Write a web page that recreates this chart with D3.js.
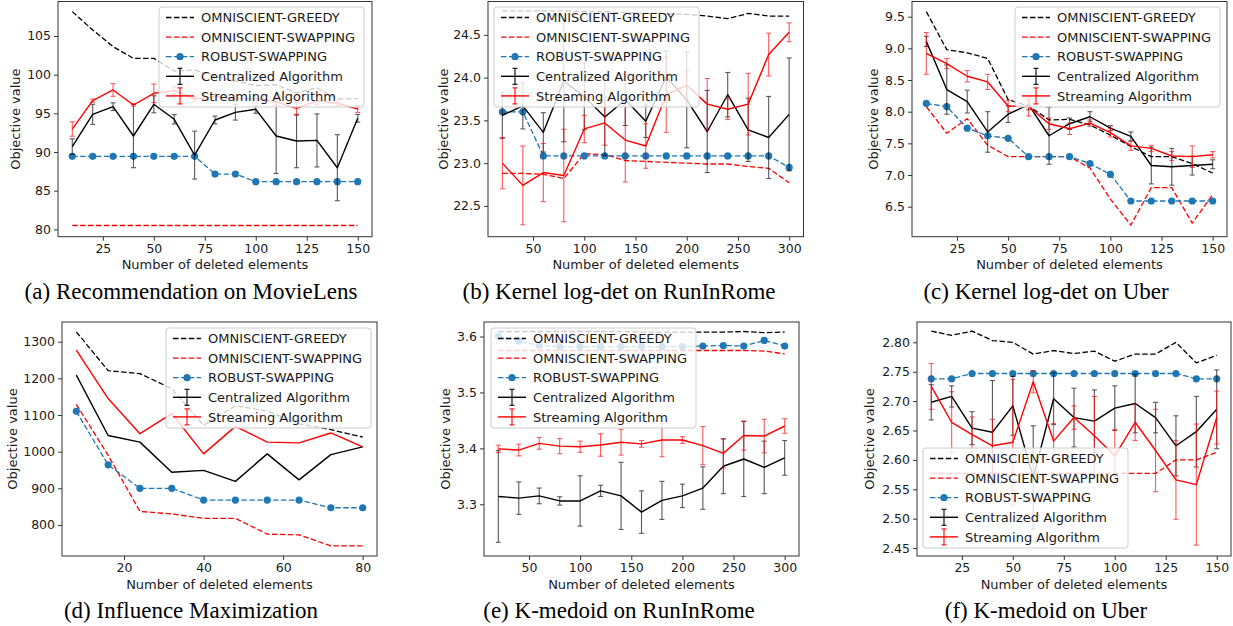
<!DOCTYPE html>
<html>
<head>
<meta charset="utf-8">
<script src="https://cdn.jsdelivr.net/npm/d3@7"></script>
<style>
  body { margin: 0; background: #fff; }
  svg { display: block; }
</style>
</head>
<body>
<svg id="fig" width="1233" height="626"></svg>
<script>
// ---------- (a) Recommendation on MovieLens ----------
const aX = [10, 20, 30, 40, 50, 60, 70, 80, 90, 100, 110, 120, 130, 140, 150];
const aGreedy = [108.15, 105.78, 103.62, 102.11, 102.11, 100.47, 100.6, 99.8, 99.2, 98.6, 98.7, 97.65, 98.3, 96.85, 96.9];
const aOmniSwap = [80.5, 80.5, 80.5, 80.5, 80.5, 80.5, 80.5, 80.5, 80.5, 80.5, 80.5, 80.5, 80.5, 80.5, 80.5];
const aRobust = [89.44, 89.44, 89.44, 89.44, 89.44, 89.44, 89.44, 87.15, 87.15, 86.16, 86.16, 86.16, 86.16, 86.16, 86.16];
const aCentral = [90.7, 94.87, 95.86, 92.07, 96.17, 94.23, 89.6, 94.14, 95.13, 95.52, 92.07, 91.42, 91.5, 87.97, 94.36];
const aCentralErr = [1.0, 1.3, 0.5, 4.1, 1.1, 0.6, 3.1, 0.5, 1.0, 0.5, 4.85, 3.45, 3.43, 4.27, 0.5];
const aStream = [92.97, 96.64, 98.02, 96.08, 97.59, 97.93, 96.85, 97.16, 96.9, 96.9, 96.5, 95.65, 96.64, 96.3, 95.56];
const aStreamErr = [0.93, 0.2, 0.82, 0.15, 1.2, 0.5, 0.3, 0.5, 0.4, 0.4, 0.5, 0.9, 0.5, 0.3, 0.45];

// ---------- (b) Kernel log-det on RunInRome ----------
const bX = [20, 40, 60, 80, 100, 120, 140, 160, 180, 200, 220, 240, 260, 280, 300];
const bGreedy = [24.78, 24.78, 24.78, 24.78, 24.77, 24.77, 24.76, 24.75, 24.75, 24.74, 24.72, 24.69, 24.75, 24.72, 24.72];
const bOmniSwap = [22.88, 22.88, 22.87, 22.82, 23.11, 23.10, 23.03, 23.02, 23.01, 23.00, 22.99, 22.99, 22.96, 22.94, 22.77];
const bRobust = [23.6, 23.6, 23.085, 23.085, 23.085, 23.085, 23.085, 23.085, 23.085, 23.085, 23.085, 23.085, 23.085, 23.085, 22.95];
const bCentral = [23.56, 23.67, 23.36, 23.96, 23.78, 23.54, 23.74, 23.49, 24.01, 23.74, 23.37, 23.8, 23.39, 23.3, 23.57];
const bCentralErr = [0.27, 0.27, 0.23, 0.71, 0.39, 0.45, 0.3, 0.19, 0.3, 0.56, 0.48, 0.26, 0.37, 0.48, 0.66];
const bStream = [23.0, 22.74, 22.89, 22.855, 23.4, 23.47, 23.27, 23.2, 23.8, 23.91, 23.69, 23.63, 23.69, 24.27, 24.53];
const bStreamErr = [0.3, 0.46, 0.34, 0.54, 0.16, 0.26, 0.49, 0.26, 0.44, 0.17, 0.3, 0.12, 0.36, 0.25, 0.11];

// ---------- (c) Kernel log-det on Uber ----------
const cX = [10, 20, 30, 40, 50, 60, 70, 80, 90, 100, 110, 120, 130, 140, 150];
const cGreedy = [9.58, 8.98, 8.93, 8.84, 8.19, 8.09, 7.87, 7.88, 7.79, 7.63, 7.45, 7.29, 7.29, 7.18, 7.03];
const cOmniSwap = [8.08, 7.66, 7.89, 7.47, 7.29, 7.29, 7.29, 7.29, 7.11, 6.62, 6.21, 6.8, 6.8, 6.24, 6.69];
const cRobust = [8.13, 8.08, 7.74, 7.62, 7.58, 7.29, 7.29, 7.29, 7.18, 7.01, 6.59, 6.59, 6.59, 6.59, 6.59];
const cCentral = [9.11, 8.35, 8.16, 7.68, 7.96, 8.11, 7.62, 7.81, 7.92, 7.74, 7.61, 7.15, 7.13, 7.15, 7.17];
const cCentralErr = [0.08, 0.39, 0.18, 0.32, 0.13, 0.08, 0.45, 0.09, 0.08, 0.04, 0.07, 0.29, 0.29, 0.15, 0.07];
const cStream = [8.92, 8.76, 8.56, 8.47, 8.09, 8.08, 7.81, 7.73, 7.82, 7.67, 7.46, 7.42, 7.3, 7.29, 7.32];
const cStreamErr = [0.33, 0.08, 0.09, 0.12, 0.09, 0.15, 0.09, 0.09, 0.05, 0.07, 0.07, 0.05, 0.07, 0.17, 0.05];

// ---------- (d) Influence Maximization ----------
const dX = [8, 16, 24, 32, 40, 48, 56, 64, 72, 80];
const dGreedy = [1327, 1221, 1213, 1172, 1072, 1125, 1111, 1076, 1060, 1040];
const dOmniSwap = [1129, 990, 837, 830, 818, 818, 775, 773, 743, 743];
const dRobust = [1110, 964, 900, 900, 868, 868, 868, 868, 847, 847];
const dCentral = [1209, 1044, 1026, 944, 949, 919, 994, 923, 992, 1013];
const dCentralErr = [0, 0, 0, 0, 0, 0, 0, 0, 0, 0];
const dStream = [1277, 1145, 1049, 1104, 994, 1069, 1026, 1024, 1051, 1013];
const dStreamErr = [0, 0, 0, 0, 0, 0, 0, 0, 0, 0];

// ---------- (e) K-medoid on RunInRome ----------
const eX = [20, 40, 60, 80, 100, 120, 140, 160, 180, 200, 220, 240, 260, 280, 300];
const eGreedy = [3.609, 3.609, 3.609, 3.609, 3.609, 3.609, 3.609, 3.608, 3.608, 3.608, 3.608, 3.608, 3.609, 3.607, 3.608];
const eOmniSwap = [3.575, 3.575, 3.575, 3.575, 3.575, 3.575, 3.575, 3.575, 3.575, 3.575, 3.575, 3.575, 3.575, 3.574, 3.569];
const eRobust = [3.601, 3.592, 3.584, 3.582, 3.582, 3.582, 3.582, 3.582, 3.582, 3.582, 3.583, 3.584, 3.583, 3.593, 3.583];
const eCentral = [3.314, 3.311, 3.315, 3.306, 3.306, 3.324, 3.315, 3.286, 3.307, 3.315, 3.329, 3.368, 3.381, 3.366, 3.383];
const eCentralErr = [0.082, 0.029, 0.014, 0.0075, 0.045, 0.01, 0.06, 0.038, 0.034, 0.021, 0.038, 0.049, 0.067, 0.047, 0.031];
const eStream = [3.399, 3.397, 3.409, 3.404, 3.403, 3.406, 3.411, 3.408, 3.415, 3.415, 3.405, 3.391, 3.423, 3.422, 3.44];
const eStreamErr = [0.0066, 0.0105, 0.0105, 0.0135, 0.01, 0.02, 0.023, 0.006, 0.03, 0.006, 0.034, 0.026, 0.026, 0.03, 0.013];

// ---------- (f) K-medoid on Uber ----------
const fX = [10, 20, 30, 40, 50, 60, 70, 80, 90, 100, 110, 120, 130, 140, 150];
const fGreedy = [2.819, 2.812, 2.819, 2.803, 2.8, 2.78, 2.786, 2.781, 2.785, 2.768, 2.78, 2.78, 2.8, 2.765, 2.778];
const fOmniSwap = [2.577, 2.577, 2.577, 2.577, 2.577, 2.577, 2.577, 2.577, 2.577, 2.577, 2.577, 2.577, 2.6, 2.6, 2.613];
const fRobust = [2.738, 2.738, 2.747, 2.747, 2.747, 2.747, 2.747, 2.747, 2.747, 2.747, 2.747, 2.747, 2.747, 2.738, 2.738];
const fCentral = [2.698, 2.708, 2.654, 2.647, 2.692, 2.57, 2.704, 2.672, 2.666, 2.688, 2.696, 2.672, 2.624, 2.648, 2.686];
const fCentralErr = [0.03, 0.018, 0.028, 0.088, 0.05, 0.088, 0.044, 0.05, 0.053, 0.038, 0.05, 0.026, 0.051, 0.06, 0.067];
const fStream = [2.725, 2.664, 2.643, 2.624, 2.63, 2.733, 2.632, 2.672, 2.641, 2.607, 2.664, 2.616, 2.566, 2.558, 2.672];
const fStreamErr = [0.039, 0.052, 0.03, 0.045, 0.107, 0.019, 0.03, 0.02, 0.067, 0.045, 0.031, 0.07, 0.067, 0.103, 0.045];

// ---------- labels and ticks ----------
const seriesNames = ["OMNISCIENT-GREEDY", "OMNISCIENT-SWAPPING", "ROBUST-SWAPPING", "Centralized Algorithm", "Streaming Algorithm"];
const xAxisTitle = "Number of deleted elements";
const yAxisTitle = "Objective value";
const captions = ["(a) Recommendation on MovieLens", "(b) Kernel log-det on RunInRome", "(c) Kernel log-det on Uber",
                  "(d) Influence Maximization", "(e) K-medoid on RunInRome", "(f) K-medoid on Uber"];
const ticks150 = [25, 50, 75, 100, 125, 150];
const ticks300 = [50, 100, 150, 200, 250, 300];
const ticks80 = [20, 40, 60, 80];
const aYTicks = [80, 85, 90, 95, 100, 105];
const bYTicks = [22.5, 23.0, 23.5, 24.0, 24.5];
const cYTicks = [6.5, 7.0, 7.5, 8.0, 8.5, 9.0, 9.5];
const dYTicks = [800, 900, 1000, 1100, 1200, 1300];
const eYTicks = [3.3, 3.4, 3.5, 3.6];
const fYTicks = [2.45, 2.50, 2.55, 2.60, 2.65, 2.70, 2.75, 2.80];

// ---------- layout of the six axes ----------
const panels = [
  { x: aX, s: [aGreedy, aOmniSwap, aRobust, aCentral, aStream], err: [null, null, null, aCentralErr, aStreamErr],
    frame: [58, 1.5, 372, 236.7], xDom: [3, 157], yDom: [79.05, 109.46], xT: ticks150, yT: aYTicks, fmt: "d",
    yOff: 43, leg: [159, 7], cap: captions[0], capX: 191, capY: 298.5 },
  { x: bX, s: [bGreedy, bOmniSwap, bRobust, bCentral, bStream], err: [null, null, null, bCentralErr, bStreamErr],
    frame: [488, 1.5, 803.5, 236.7], xDom: [6, 314], yDom: [22.14, 24.89], xT: ticks300, yT: bYTicks, fmt: ".1f",
    yOff: 45, leg: [494, 7], cap: captions[1], capX: 619, capY: 298.5 },
  { x: cX, s: [cGreedy, cOmniSwap, cRobust, cCentral, cStream], err: [null, null, null, cCentralErr, cStreamErr],
    frame: [912, 1.5, 1227, 236.7], xDom: [3, 157], yDom: [6.026, 9.74], xT: ticks150, yT: cYTicks, fmt: ".1f",
    yOff: 39, leg: [1015, 7], cap: captions[2], capX: 1046, capY: 298.5 },
  { x: dX, s: [dGreedy, dOmniSwap, dRobust, dCentral, dStream], err: [null, null, null, dCentralErr, dStreamErr],
    frame: [62, 322, 377, 556], xDom: [4.4, 83.6], yDom: [715.3, 1353.8], xT: ticks80, yT: dYTicks, fmt: "d",
    yOff: 50, leg: [166, 328], cap: captions[3], capX: 191, capY: 618 },
  { x: eX, s: [eGreedy, eOmniSwap, eRobust, eCentral, eStream], err: [null, null, null, eCentralErr, eStreamErr],
    frame: [484, 322, 799, 556], xDom: [6, 314], yDom: [3.2075, 3.626], xT: ticks300, yT: eYTicks, fmt: ".1f",
    yOff: 39, leg: [491, 328], cap: captions[4], capX: 619, capY: 618 },
  { x: fX, s: [fGreedy, fOmniSwap, fRobust, fCentral, fStream], err: [null, null, null, fCentralErr, fStreamErr],
    frame: [917, 322, 1231, 556], xDom: [3, 157], yDom: [2.4365, 2.8346], xT: ticks150, yT: fYTicks, fmt: ".2f",
    yOff: 48, leg: [923, 448], cap: captions[5], capX: 1046, capY: 618 }
];

// line styles for the five series
const styles = [
  { color: "#000000", dash: "5.5,2.4", width: 1.3 },
  { color: "#ff0000", dash: "5.5,2.4", width: 1.3 },
  { color: "#1f77b4", dash: "5.5,2.4", width: 1.3, marker: true },
  { color: "#000000", dash: null, width: 1.4, errbar: true },
  { color: "#ff0000", dash: null, width: 1.4, errbar: true }
];

const SANS = "'DejaVu Sans', sans-serif";
const TXT = "#1a1a1a";
const svg = d3.select("#fig");

panels.forEach((p, pi) => {
  const [l, t, r, b] = p.frame;
  const x = d3.scaleLinear().domain(p.xDom).range([l, r]);
  const y = d3.scaleLinear().domain(p.yDom).range([b, t]);
  const g = svg.append("g");

  const clipId = "clip" + pi;
  g.append("clipPath").attr("id", clipId)
    .append("rect").attr("x", l).attr("y", t).attr("width", r - l).attr("height", b - t);

  const plot = g.append("g").attr("clip-path", `url(#${clipId})`);

  p.s.forEach((vals, si) => {
    const st = styles[si];
    const pts = vals.map((v, i) => [p.x[i], v]);
    const line = d3.line().x(d => x(d[0])).y(d => y(d[1]));

    // error bars with caps
    const errs = p.err[si];
    if (st.errbar && errs) {
      const eg = plot.append("g").attr("stroke", st.color).attr("stroke-width", 1.1).attr("opacity", 0.65);
      pts.forEach((d, i) => {
        const e = errs[i];
        if (!e) return;
        const cx = x(d[0]), y1 = y(d[1] + e), y2 = y(d[1] - e);
        eg.append("line").attr("x1", cx).attr("x2", cx).attr("y1", y1).attr("y2", y2);
        eg.append("line").attr("x1", cx - 2.5).attr("x2", cx + 2.5).attr("y1", y1).attr("y2", y1);
        eg.append("line").attr("x1", cx - 2.5).attr("x2", cx + 2.5).attr("y1", y2).attr("y2", y2);
      });
    }

    plot.append("path").datum(pts)
      .attr("d", line)
      .attr("fill", "none")
      .attr("stroke", st.color)
      .attr("stroke-width", st.width)
      .attr("stroke-dasharray", st.dash)
      .attr("stroke-linejoin", "round");

    if (st.marker) {
      plot.selectAll(null).data(pts).join("circle")
        .attr("cx", d => x(d[0])).attr("cy", d => y(d[1]))
        .attr("r", 3.6).attr("fill", st.color);
    }
  });

  // axes
  const xa = g.append("g").attr("transform", `translate(0,${b})`)
    .call(d3.axisBottom(x).tickValues(p.xT).tickFormat(d3.format("d")).tickSize(4).tickPadding(3));
  const ya = g.append("g").attr("transform", `translate(${l},0)`)
    .call(d3.axisLeft(y).tickValues(p.yT).tickFormat(d3.format(p.fmt)).tickSize(4).tickPadding(3));
  [xa, ya].forEach(a => {
    a.select(".domain").remove();
    a.selectAll(".tick line").attr("stroke", "#333").attr("stroke-width", 1);
    a.selectAll(".tick text").attr("fill", TXT).style("font-family", SANS).style("font-size", "12.5px");
  });

  // axes frame
  g.append("rect").attr("x", l).attr("y", t).attr("width", r - l).attr("height", b - t)
    .attr("fill", "none").attr("stroke", "#333").attr("stroke-width", 1);

  // axis titles
  g.append("text").attr("x", (l + r) / 2).attr("y", b + 28).attr("dy", "0.35em")
    .attr("text-anchor", "middle").attr("fill", TXT)
    .style("font-family", SANS).style("font-size", "13px").text(xAxisTitle);
  g.append("text").attr("transform", `translate(${l - p.yOff},${(t + b) / 2}) rotate(-90)`)
    .attr("dy", "0.35em").attr("text-anchor", "middle").attr("fill", TXT)
    .style("font-family", SANS).style("font-size", "13px").text(yAxisTitle);

  // legend
  const [lx, ly] = p.leg;
  const lg = g.append("g").attr("transform", `translate(${lx},${ly})`);
  lg.append("rect").attr("width", 205).attr("height", 100).attr("rx", 3)
    .attr("fill", "#fff").attr("fill-opacity", 0.8).attr("stroke", "#cccccc").attr("stroke-width", 1);
  seriesNames.forEach((name, si) => {
    const st = styles[si];
    const ry = 10.5 + si * 19.6;
    const h = lg.append("g");
    h.append("line").attr("x1", 7).attr("x2", 35).attr("y1", ry).attr("y2", ry)
      .attr("stroke", st.color).attr("stroke-width", st.width).attr("stroke-dasharray", st.dash);
    if (st.marker) h.append("circle").attr("cx", 21).attr("cy", ry).attr("r", 3.6).attr("fill", st.color);
    if (st.errbar) {
      h.append("line").attr("x1", 21).attr("x2", 21).attr("y1", ry - 8).attr("y2", ry + 8)
        .attr("stroke", st.color).attr("stroke-width", 1.1);
      [ry - 8, ry + 8].forEach(cy => h.append("line").attr("x1", 18.5).attr("x2", 23.5).attr("y1", cy).attr("y2", cy)
        .attr("stroke", st.color).attr("stroke-width", 1.1));
    }
    lg.append("text").attr("x", 42).attr("y", ry).attr("dy", "0.36em").attr("fill", TXT)
      .style("font-family", SANS).style("font-size", "13px").text(name);
  });

  // sub-figure caption
  svg.append("text").attr("x", p.capX).attr("y", p.capY).attr("text-anchor", "middle").attr("fill", "#000")
    .style("font-family", "'Liberation Serif', 'Times New Roman', serif").style("font-size", "23px").text(p.cap);
});
</script>
</body>
</html>
